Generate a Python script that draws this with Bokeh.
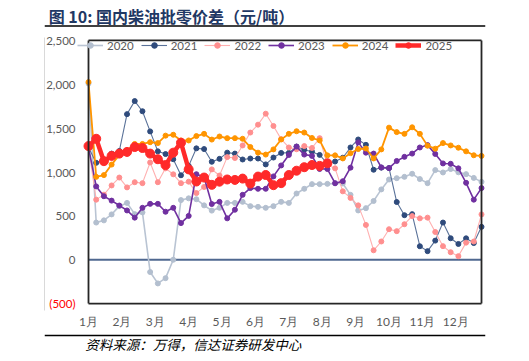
from bokeh.plotting import figure
from bokeh.layouts import column
from bokeh.models import (Range1d, FixedTicker, NumeralTickFormatter, Span, Label,
                          Legend, LegendItem)
from bokeh.embed import file_html
from bokeh.resources import INLINE

years = ["2020", "2021", "2022", "2023", "2024", "2025"]
month_labels = ["1月", "2月", "3月", "4月", "5月", "6月", "7月", "8月", "9月", "10月", "11月", "12月"]
y_ticks = [-500, 0, 500, 1000, 1500, 2000, 2500]
weeks_per_year = 52

s2020 = [2010, 424, 449, 517, 611, 648, 520, 540, -140, -270, -210, 0, 680, 700, 690, 620, 560, 592, 648, 648,
         660, 611, 603, 592, 611, 660, 648, 755, 809, 862, 862, 865, 870, 870, 740, 562, 588, 670, 802, 915,
         930, 945, 980, 920, 873, 1022, 995, 1034, 997, 976, 933, 888]
s2021 = [1280, 1105, 1135, 1210, 1240, 1660, 1809, 1693, 1463, 1236, 1205, 1146, 963, 1070, 1270, 1262, 1117, 1150, 1221, 1210,
         1143, 1154, 1154, 1087, 1165, 1218, 1218, 1290, 1255, 1232, 1195, 1095, 1120, 1163, 1280, 1371, 1310, 1026, 1050, 1045,
         658, 508, 520, 154, 98, 218, 424, 245, 180, 244, 190, 375]
s2022 = [1280, 685, 742, 847, 937, 825, 884, 873, 1109, 884, 1042, 974, 873, 890, 760, 830, 1030, 960, 1170, 1160,
         1303, 1450, 1540, 1665, 1525, 1375, 1280, 1260, 1296, 1274, 1386, 1079, 1042, 780, 705, 620, 397, 108, 208, 348,
         326, 405, 498, 472, 480, 316, 155, 86, 41, 195, 208, 517]
s2023 = [1280, 836, 724, 674, 618, 562, 480, 592, 637, 637, 547, 592, 418, 500, 975, 940, 635, 660, 472, 570,
         740, 817, 809, 809, 950, 1075, 1195, 1290, 1199, 1184, 1034, 1034, 873, 895, 1050, 1338, 1221, 1210, 1053, 1045,
         1126, 1173, 1210, 1280, 1307, 1206, 1098, 1094, 1042, 877, 685, 817]
s2024 = [2025, 945, 965, 1085, 1195, 1245, 1320, 1320, 1340, 1330, 1415, 1425, 1360, 1360, 1410, 1435, 1370, 1405, 1386, 1386,
         1379, 1285, 1221, 1199, 1258, 1371, 1435, 1465, 1450, 1388, 1360, 1190, 1190, 1155, 1215, 1262, 1268, 1155, 1258, 1506,
         1455, 1435, 1510, 1435, 1300, 1266, 1330, 1303, 1277, 1236, 1191, 1184]
s2025 = [1296, 1379, 1124, 1184, 1210, 1229, 1285, 1274, 1210, 1146, 1079, 1221, 1334, 1030, 892, 937, 854, 890, 915, 910,
         925, 868, 948, 966, 850, 873, 966, 1015, 1055, 1080, 1070, 1100]

series = [s2020, s2021, s2022, s2023, s2024, s2025]
colors = ["#b3bfcf", "#2f4b7c", "#ff8f8f", "#7030a0", "#ff9500", "#ff2a2a"]
line_colors = ["#b9c4d3", "#5a7299", "#ffb0b0", "#7030a0", "#ff9500", "#ff2a2a"]
widths = [1.6, 1.1, 1.1, 1.6, 1.8, 4.5]
sizes = [5, 5, 5, 5, 5, 9]

W = 521
TITLE_FONT = "Noto Sans CJK SC"

# ---------- header (title + rule) ----------
HH = 27
hdr = figure(width=W, height=HH, output_backend="svg", toolbar_location=None,
             x_range=Range1d(0, W), y_range=Range1d(HH, 0),
             x_axis_type=None, y_axis_type=None, min_border=0)
hdr.outline_line_color = None
hdr.xgrid.visible = False
hdr.ygrid.visible = False
hdr.add_layout(Label(x=5, y=15, text="图 10:  国内柴油批零价差（元/吨）", text_baseline="middle",
                     text_font=TITLE_FONT, text_font_style="bold",
                     text_font_size="16px", text_color="#1f3864"))
hdr.add_layout(Span(location=25.5, dimension="width", line_color="#000000", line_width=1.5))

# ---------- main chart ----------
MH = 304
top_ref = 27                                # page y where the chart starts
frame_left, frame_right = 44, 485           # frame in pixels
data_left, data_right = 88, 481             # where the first / last week sit
y_top_px, y_bot_px = 40, 307                # pixels of 2,500 and (500)
pad_top, pad_bot = 3, 7
x_last = (weeks_per_year - 1) * 12 / weeks_per_year
px_per_x = (data_right - data_left) / x_last
px_per_y = (y_bot_px - y_top_px) / (y_ticks[-1] - y_ticks[0])
x_start = -(data_left - frame_left) / px_per_x
x_end = x_last + (frame_right - data_right) / px_per_x
y_start = y_ticks[0] - pad_bot / px_per_y
y_end = y_ticks[-1] + pad_top / px_per_y
border_top = y_top_px - pad_top - top_ref
border_bottom = MH - (y_bot_px + pad_bot - top_ref)

p = figure(width=W, height=MH, output_backend="svg", toolbar_location=None,
           x_range=Range1d(x_start, x_end), y_range=Range1d(y_start, y_end),
           min_border_left=frame_left, min_border_right=W - frame_right,
           min_border_top=border_top, min_border_bottom=border_bottom)
p.background_fill_color = "white"
p.border_fill_color = "white"
p.outline_line_color = None
p.xgrid.visible = False
p.ygrid.visible = False

ya = p.yaxis[0]
ya.ticker = FixedTicker(ticks=y_ticks)
ya.formatter = NumeralTickFormatter(format="0,0")
ya.major_label_overrides = {y_ticks[0]: " "}
ya.axis_line_color = "#d9d9d9"
ya.axis_line_width = 1
ya.major_tick_line_color = None
ya.minor_tick_line_color = None
ya.major_tick_out = 0
ya.major_tick_in = 0
ya.major_label_standoff = -31
ya.major_label_text_font = "Lato"
ya.major_label_text_font_size = "11.5px"
ya.major_label_text_color = "#595959"

xa = p.xaxis[0]
xa.ticker = FixedTicker(ticks=list(range(12)))
xa.major_label_overrides = {i: m for i, m in enumerate(month_labels)}
xa.axis_line_color = None
xa.major_tick_line_color = None
xa.minor_tick_line_color = None
xa.major_tick_out = 0
xa.major_tick_in = 0
xa.major_label_standoff = 3
xa.major_label_text_font = "Lato"
xa.major_label_text_font_size = "12px"
xa.major_label_text_color = "#595959"

# zero line
p.segment(x0=[0], y0=[0], x1=[x_last], y1=[0], line_color="#4f6890", line_width=2.2)

items = []
for yr, s, c, lc, w, sz in zip(years, series, colors, line_colors, widths, sizes):
    xs = [i * 12 / weeks_per_year for i in range(len(s))]
    r1 = p.line(xs, s, line_color=lc, line_width=w)
    r2 = p.scatter(xs, s, size=sz, fill_color=c, line_color=c)
    items.append(LegendItem(label=yr, renderers=[r1, r2]))

# plot-area box: four edges of the data extent, drawn on top
y_lo, y_hi = y_ticks[0], y_ticks[-1]
box_color = "#262626"
p.line(x=[0, x_last], y=[y_lo, y_lo], line_color=box_color, line_width=1.8)
p.line(x=[0, x_last], y=[y_hi, y_hi], line_color=box_color, line_width=1.8)
p.line(x=[0, 0], y=[y_lo, y_hi], line_color=box_color, line_width=1.8)
p.line(x=[x_last, x_last], y=[y_lo, y_hi], line_color=box_color, line_width=1.8)

legend_top_px = 42
frame_h = (y_bot_px + pad_bot) - (y_top_px - pad_top)
legend = Legend(items=items, orientation="horizontal",
                location=(77 - frame_left, frame_h - (legend_top_px - (y_top_px - pad_top)) - 14),
                glyph_width=26, glyph_height=14, label_height=14, label_standoff=4, spacing=7,
                padding=0, margin=0, border_line_alpha=0, background_fill_alpha=0,
                label_text_font="Lato", label_text_font_size="11.5px", label_text_color="#595959")
p.add_layout(legend)

p.add_layout(Label(x=0, y=y_ticks[0], x_offset=-13, text="(500)", text_align="right",
                   text_baseline="middle", text_color="#ff0000", text_font="Lato",
                   text_font_size="11.5px"))

# ---------- footer (rule + source) ----------
FH = 22
ftr = figure(width=W, height=FH, output_backend="svg", toolbar_location=None,
             x_range=Range1d(0, W), y_range=Range1d(FH, 0),
             x_axis_type=None, y_axis_type=None, min_border=0)
ftr.outline_line_color = None
ftr.xgrid.visible = False
ftr.ygrid.visible = False
ftr.add_layout(Span(location=4, dimension="width", line_color="#000000", line_width=1.5))
ftr.add_layout(Label(x=48, y=12, text="资料来源：万得，信达证券研发中心", text_baseline="middle",
                     text_font=TITLE_FONT, text_font_style="italic",
                     text_font_size="13.5px", text_color="#000000"))

layout = column(hdr, p, ftr, spacing=0)
open("out.html", "w").write(file_html(layout, INLINE))
